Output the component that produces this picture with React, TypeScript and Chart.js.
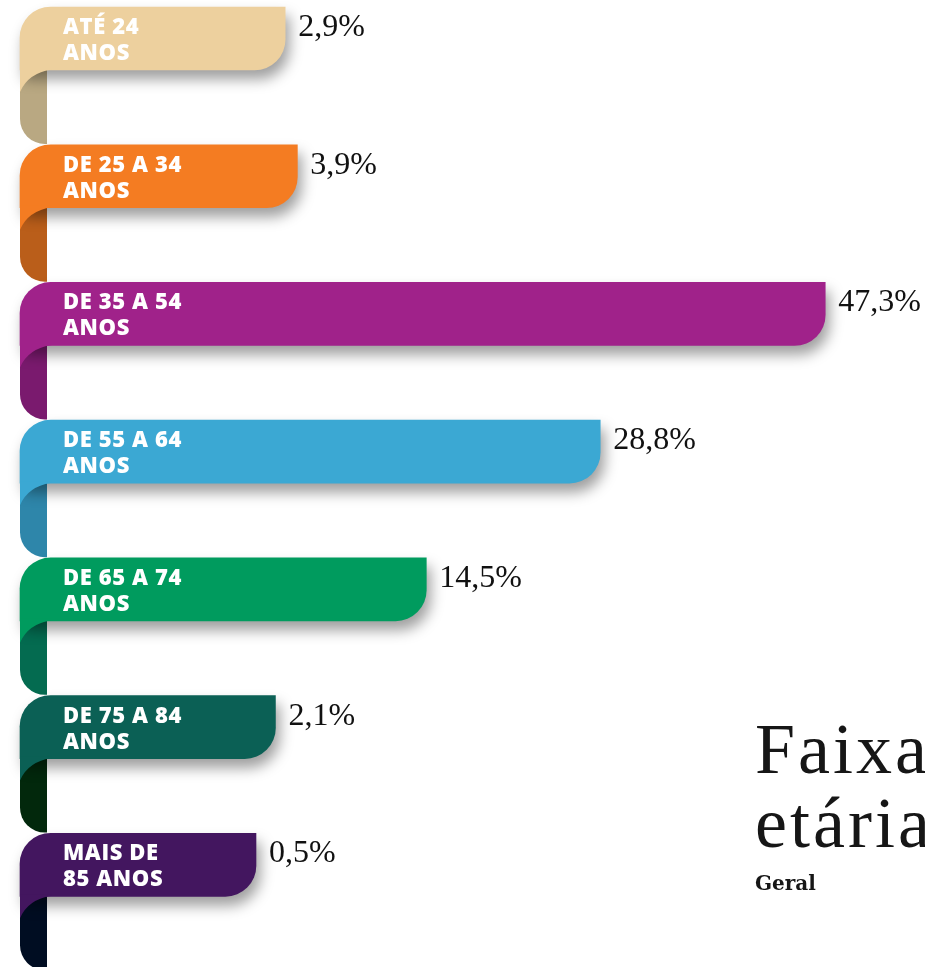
import React, { useEffect, useRef } from "react";
import { Chart, registerables } from "chart.js";

Chart.register(...registerables);

const LABEL_LINE_1 = ["ATÉ 24", "DE 25 A 34", "DE 35 A 54", "DE 55 A 64", "DE 65 A 74", "DE 75 A 84", "MAIS DE"];
const LABEL_LINE_2 = ["ANOS", "ANOS", "ANOS", "ANOS", "ANOS", "ANOS", "85 ANOS"];
const VALUES = [2.9, 3.9, 47.3, 28.8, 14.5, 2.1, 0.5];
const VALUE_LABELS = ["2,9%", "3,9%", "47,3%", "28,8%", "14,5%", "2,1%", "0,5%"];
const BAR_COLORS = ["#EDD09E", "#F47C22", "#A0228A", "#3BA8D3", "#009B5E", "#0B6055", "#43165F"];
const FOLD_COLORS = ["#B9A882", "#BA5E1A", "#7A1A6E", "#2E86AA", "#046B50", "#02280C", "#000D22"];
const TITLE_LINES = ["Faixa", "etária"];
const SUBTITLE = "Geral";

// value axis range (the label area of each ribbon sits left of zero)
const X_MIN = -18.9;
const X_MAX = 55.5;

const ribbonPlugin = {
  id: "ribbon",
  beforeDatasetsDraw(chart: any) {
    const ctx = chart.ctx;
    const meta = chart.getDatasetMeta(0);
    meta.data.forEach((bar: any, i: number) => {
      const p = bar.getProps(["base", "y", "height"], true);
      const left = p.base;
      const bb = p.y + p.height / 2;
      const w = 27;
      const drop = 74;
      const r = 25;
      ctx.save();
      ctx.beginPath();
      ctx.moveTo(left + w, bb - 4);
      ctx.lineTo(left + w, bb + drop);
      ctx.lineTo(left + r, bb + drop);
      ctx.arcTo(left, bb + drop, left, bb + drop - r, r);
      ctx.lineTo(left, bb - 4);
      ctx.closePath();
      ctx.fillStyle = FOLD_COLORS[i];
      ctx.fill();
      ctx.restore();
    });
  },
  beforeDatasetDraw(chart: any) {
    const ctx = chart.ctx;
    ctx.save();
    ctx.shadowColor = "rgba(0,0,0,0.38)";
    ctx.shadowBlur = 14;
    ctx.shadowOffsetX = 4;
    ctx.shadowOffsetY = 9;
  },
  afterDatasetDraw(chart: any) {
    chart.ctx.restore();
  },
  afterDatasetsDraw(chart: any) {
    const ctx = chart.ctx;
    const meta = chart.getDatasetMeta(0);
    meta.data.forEach((bar: any, i: number) => {
      const p = bar.getProps(["x", "base", "y", "height"], true);
      const left = p.base;
      const top = p.y - p.height / 2;
      const bb = p.y + p.height / 2;
      // light curl under the bar's left end
      ctx.save();
      ctx.beginPath();
      ctx.moveTo(left, bb - 2);
      ctx.lineTo(left, bb + 22);
      ctx.quadraticCurveTo(left + 8, bb + 3, left + 32, bb - 0.5);
      ctx.lineTo(left + 32, bb - 2);
      ctx.closePath();
      ctx.fillStyle = BAR_COLORS[i];
      ctx.fill();
      ctx.restore();

      // category label
      ctx.save();
      ctx.fillStyle = "#ffffff";
      ctx.font = "800 22px 'Open Sans', 'Noto Sans', sans-serif";
      (ctx as any).letterSpacing = "0.6px";
      ctx.textAlign = "left";
      ctx.textBaseline = "alphabetic";
      ctx.fillText(LABEL_LINE_1[i], left + 43, top + 27);
      ctx.fillText(LABEL_LINE_2[i], left + 43, top + 53);
      ctx.restore();

      // value label
      ctx.save();
      ctx.fillStyle = "#111111";
      ctx.font = "32px 'Liberation Serif', serif";
      ctx.textAlign = "left";
      ctx.textBaseline = "alphabetic";
      ctx.fillText(VALUE_LABELS[i], p.x + 13, top + 29);
      ctx.restore();
    });

    // title block
    ctx.save();
    ctx.fillStyle = "#161616";
    ctx.textAlign = "left";
    ctx.textBaseline = "alphabetic";
    ctx.font = "72px 'Liberation Serif', serif";
    (ctx as any).letterSpacing = "3px";
    ctx.fillText(TITLE_LINES[0], 755, 773);
    ctx.fillText(TITLE_LINES[1], 755, 847);
    (ctx as any).letterSpacing = "0px";
    ctx.font = "bold 20px 'DejaVu Serif', serif";
    ctx.fillText(SUBTITLE, 755, 890);
    ctx.restore();
  },
};

export default function App() {
  const ref = useRef<HTMLCanvasElement | null>(null);
  useEffect(() => {
    if (!ref.current) return;
    const labels = LABEL_LINE_1.map((l, i) => [l, LABEL_LINE_2[i]]);
    const chart = new Chart(ref.current, {
      type: "bar",
      data: {
        labels,
        datasets: [
          {
            data: VALUES,
            backgroundColor: BAR_COLORS,
            base: X_MIN,
            barThickness: 63,
            borderSkipped: false,
            borderWidth: 0,
            borderRadius: { topLeft: 31, topRight: 0, bottomLeft: 0, bottomRight: 31 },
            clip: false,
          } as any,
        ],
      },
      options: {
        indexAxis: "y",
        responsive: false,
        animation: false,
        devicePixelRatio: 1,
        layout: { padding: { left: 20, right: 0, top: 38.5, bottom: 102.2 } },
        scales: {
          x: { display: false, min: X_MIN, max: X_MAX },
          y: { display: false, offset: false },
        },
        plugins: {
          legend: { display: false },
          tooltip: { enabled: false },
        },
      } as any,
      plugins: [ribbonPlugin],
    });
    return () => chart.destroy();
  }, []);
  return (
    <div style={{ position: "fixed", left: 0, top: 0, width: 925, height: 967, background: "#ffffff" }}>
      <canvas ref={ref} width={925} height={967} style={{ display: "block" }} />
    </div>
  );
}
